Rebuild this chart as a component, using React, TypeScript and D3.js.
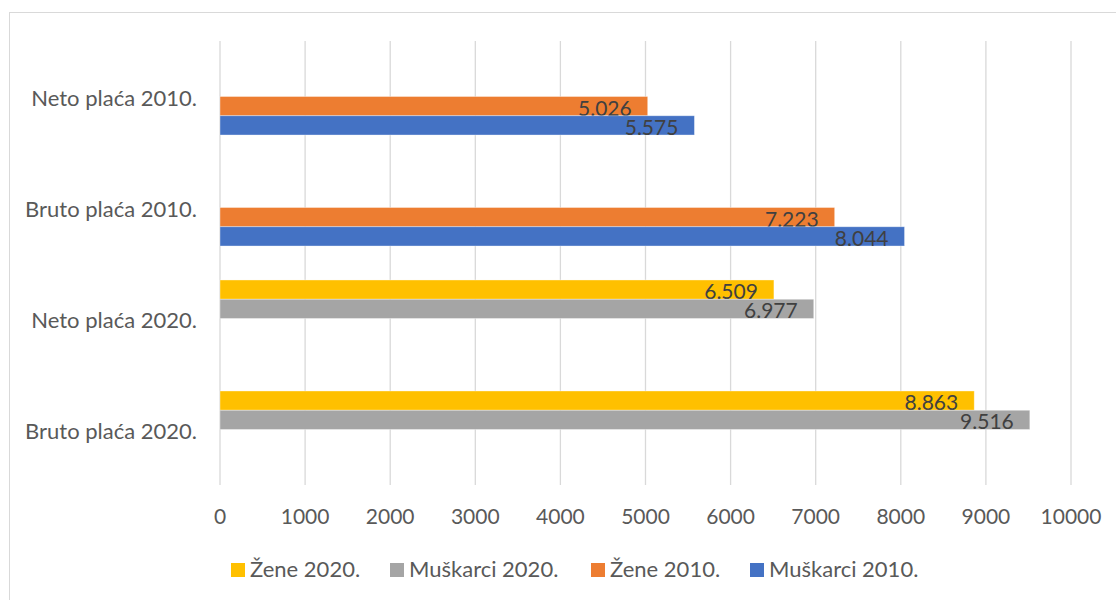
import React from "react";
import * as d3 from "d3";

const categories = ["Neto plaća 2010.", "Bruto plaća 2010.", "Neto plaća 2020.", "Bruto plaća 2020."];
const seriesNames = ["Žene 2020.", "Muškarci 2020.", "Žene 2010.", "Muškarci 2010."];
const seriesColors = ["#FFC000", "#A5A5A5", "#ED7D31", "#4472C4"];
const zene2020: (number | null)[] = [null, null, 6509, 8863];
const muskarci2020: (number | null)[] = [null, null, 6977, 9516];
const zene2010: (number | null)[] = [5026, 7223, null, null];
const muskarci2010: (number | null)[] = [5575, 8044, null, null];
const xTicks = [0, 1000, 2000, 3000, 4000, 5000, 6000, 7000, 8000, 9000, 10000];
const legendX = [231, 390, 591, 750];

const seriesValues = [zene2020, muskarci2020, zene2010, muskarci2010];

const FONT = "Lato, 'Open Sans', sans-serif";
const locale = d3.formatLocale({ decimal: ",", thousands: ".", grouping: [3], currency: ["", ""] });
const fmt = locale.format(",d");

export default function App() {
  const W = 1116, H = 600;
  const x = d3.scaleLinear().domain([0, 10000]).range([220, 1071]);
  const y = d3.scaleBand<string>().domain(categories).range([41, 485]).paddingInner(0.306).paddingOuter(0.153);
  const sub = d3.scaleBand<string>().domain(seriesNames).range([0, y.bandwidth()]);

  return (
    <svg width={W} height={H} style={{ position: "absolute", left: 0, top: 0, background: "#fff" }}>
      <rect x={9.5} y={12.5} width={W + 20} height={H + 20} fill="#fff" stroke="#D9D9D9" />
      {xTicks.map((t) => (
        <g key={t}>
          <line x1={x(t)} x2={x(t)} y1={41} y2={485} stroke="#D9D9D9" strokeWidth={1.3} />
          <text x={x(t)} y={524} textAnchor="middle" fontFamily={FONT} fontSize={21} fill="#595959">
            {t}
          </text>
        </g>
      ))}
      {categories.map((c) => (
        <text key={c} x={197} y={(y(c) as number) + y.bandwidth() / 2 + 1} textAnchor="end" dominantBaseline="central"
          fontFamily={FONT} fontSize={22} fill="#595959">
          {c}
        </text>
      ))}
      {seriesNames.map((s, si) =>
        categories.map((c, ci) => {
          const v = seriesValues[si][ci];
          if (v == null) return null;
          const by = (y(c) as number) + (sub(s) as number);
          const bh = sub.bandwidth();
          return (
            <g key={s + c}>
              <rect x={x(0)} y={by} width={x(v) - x(0)} height={bh} fill={seriesColors[si]}
                stroke="#ffffff" strokeOpacity={0.45} strokeWidth={0.8} />
              <text x={x(v) - 16} y={by + bh / 2 + 1} textAnchor="end" dominantBaseline="central"
                fontFamily={FONT} fontSize={21} fill="#404040">
                {fmt(v)}
              </text>
            </g>
          );
        })
      )}
      {seriesNames.map((s, i) => (
        <g key={s}>
          <rect x={legendX[i]} y={563} width={14} height={14} fill={seriesColors[i]} />
          <text x={legendX[i] + 19} y={577} fontFamily={FONT} fontSize={22} fill="#595959">
            {s}
          </text>
        </g>
      ))}
    </svg>
  );
}
